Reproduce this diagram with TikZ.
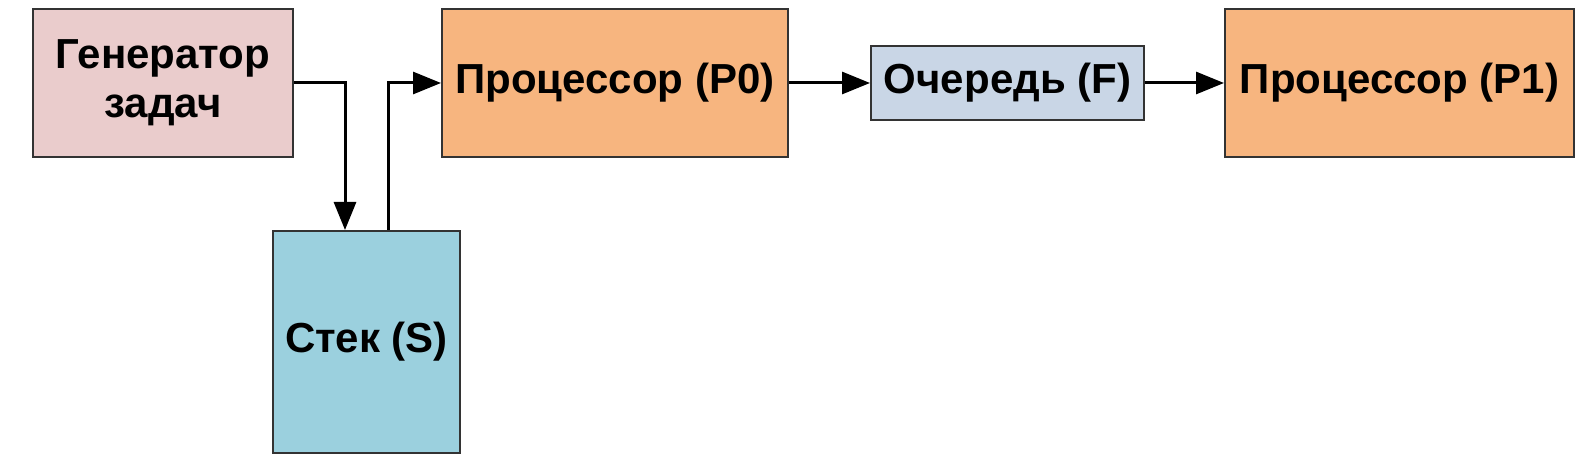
\documentclass[tikz,border=0pt]{standalone}
\usepackage{fontspec}
\setmainfont{Liberation Sans}
\usepackage{xcolor}
\usetikzlibrary{arrows.meta, positioning}

\definecolor{genfill}{HTML}{EACCCC}
\definecolor{procfill}{HTML}{F7B57F}
\definecolor{fifofill}{HTML}{C9D6E6}
\definecolor{stackfill}{HTML}{9BD0DE}
\definecolor{edge}{HTML}{333333}

\begin{document}
\begin{tikzpicture}[
    x=1pt, y=-1pt,
    box/.style   = {rectangle, draw=edge, line width=2pt,
                    minimum height=148pt, align=center,
                    font=\fontsize{42}{49}\selectfont\bfseries, inner sep=0pt},
    proc/.style  = {box, fill=procfill, minimum width=346pt},
    fifo/.style  = {box, fill=fifofill, minimum width=273pt,
                    minimum height=74pt},
    arrow/.style = {-{Triangle[length=28pt, width=22pt]}, line width=3pt}
]
\useasboundingbox (0,0) rectangle (1575,470);

% ========= top row =========
\node[box, fill=genfill, minimum width=260pt] (gen) at (163,83)
    {Генератор\\задач};
\node[proc, right=147pt of gen]                (p0)   {Процессор (P0)};
\node[fifo, right=81pt of p0]                  (fifo) {Очередь (F)};
\node[proc, right=79pt of fifo, minimum width=349pt] (p1) {Процессор (P1)};

% ========= stack =========
\node[box, fill=stackfill, minimum width=187pt, minimum height=222pt]
    (stack) at (366.5,342) {Стек (S)};

% ========= connectors =========
\draw[arrow] (gen.east) -| ([xshift=-21.5pt]stack.north);
\draw[arrow] ([xshift=21.5pt]stack.north) |- (p0.west);
\draw[arrow] (p0)   -- (fifo);
\draw[arrow] (fifo) -- (p1);
\end{tikzpicture}
\end{document}
